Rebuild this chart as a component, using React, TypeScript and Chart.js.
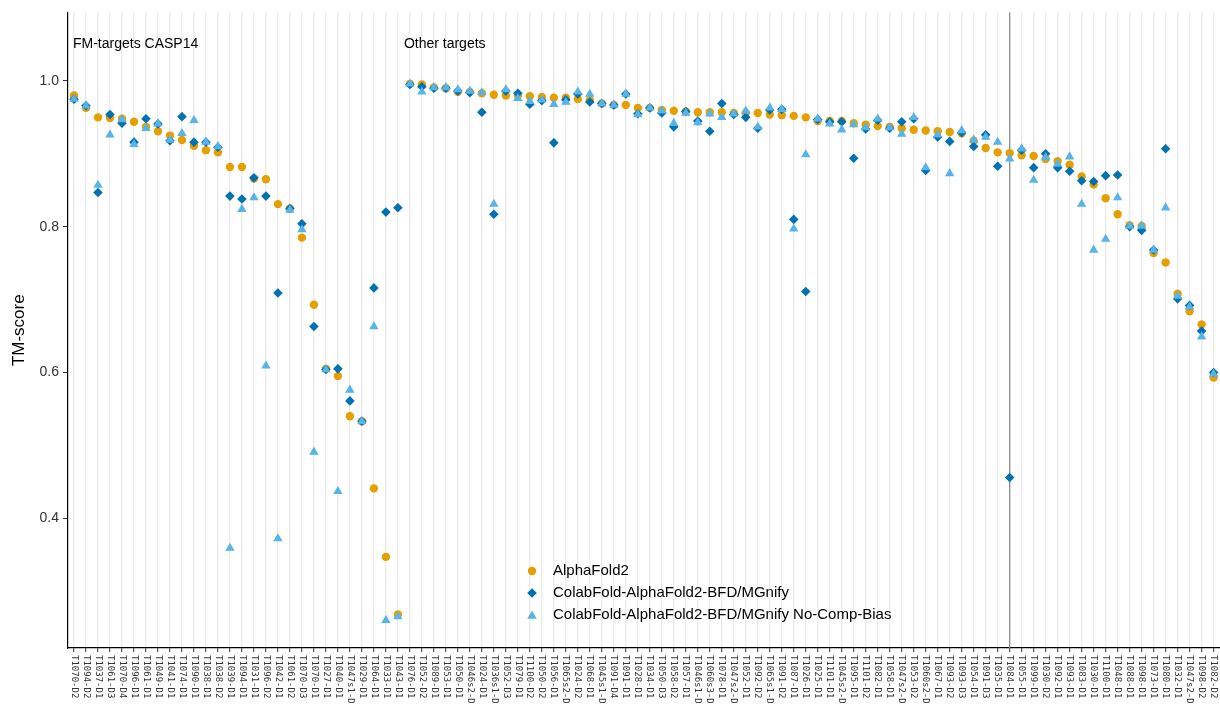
import React, { useEffect, useRef } from 'react';
import { Chart, registerables } from 'chart.js';

Chart.register(...registerables);

const targets: string[] = [
  'T1070-D2', 'T1094-D2', 'T1037-D1', 'T1061-D3', 'T1070-D4', 'T1096-D1', 'T1061-D1', 'T1049-D1',
  'T1041-D1', 'T1074-D1', 'T1090-D1', 'T1038-D1', 'T1038-D2', 'T1039-D1', 'T1094-D1', 'T1031-D1',
  'T1096-D2', 'T1042-D1', 'T1061-D2', 'T1070-D3', 'T1070-D1', 'T1027-D1', 'T1040-D1', 'T1047s1-D',
  'T1029-D1', 'T1064-D1', 'T1033-D1', 'T1043-D1',
  'T1076-D1', 'T1052-D2', 'T1089-D1', 'T1053-D1', 'T1050-D1', 'T1046s2-D', 'T1024-D1', 'T1036s1-D',
  'T1052-D3', 'T1079-D1', 'T1100-D2', 'T1050-D2', 'T1056-D1', 'T1065s2-D', 'T1024-D2', 'T1068-D1',
  'T1045s1-D', 'T1091-D4', 'T1091-D1', 'T1028-D1', 'T1034-D1', 'T1050-D3', 'T1058-D2', 'T1057-D1',
  'T1046s1-D', 'T1060s3-D', 'T1078-D1', 'T1047s2-D', 'T1052-D1', 'T1092-D2', 'T1065s1-D', 'T1091-D2',
  'T1087-D1', 'T1026-D1', 'T1025-D1', 'T1101-D1', 'T1045s2-D', 'T1095-D1', 'T1101-D2', 'T1082-D1',
  'T1058-D1', 'T1047s2-D', 'T1053-D2', 'T1060s2-D', 'T1067-D1', 'T1093-D2', 'T1093-D3', 'T1054-D1',
  'T1091-D3', 'T1035-D1', 'T1084-D1', 'T1055-D1', 'T1099-D1', 'T1030-D2', 'T1092-D1', 'T1093-D1',
  'T1083-D1', 'T1030-D1', 'T1100-D1', 'T1048-D1', 'T1088-D1', 'T1098-D1', 'T1073-D1', 'T1080-D1',
  'T1032-D1', 'T1047s2-D', 'T1098-D2', 'T1082-D2',
];

const alphaFold2: number[] = [
  0.980, 0.963, 0.950, 0.949, 0.948, 0.944, 0.937, 0.931, 0.925, 0.919, 0.911, 0.905, 0.902, 0.882,
  0.882, 0.866, 0.865, 0.831, 0.825, 0.785, 0.693, 0.605, 0.595, 0.540, 0.533, 0.441, 0.347, 0.268,
  0.996, 0.995, 0.991, 0.990, 0.985, 0.985, 0.983, 0.981, 0.980, 0.980, 0.979, 0.978, 0.977, 0.977,
  0.975, 0.974, 0.969, 0.967, 0.967, 0.963, 0.963, 0.960, 0.959, 0.958, 0.957, 0.957, 0.957, 0.956,
  0.956, 0.956, 0.954, 0.953, 0.952, 0.950, 0.945, 0.945, 0.945, 0.942, 0.940, 0.938, 0.937, 0.935,
  0.933, 0.932, 0.931, 0.930, 0.928, 0.918, 0.908, 0.902, 0.901, 0.898, 0.897, 0.893, 0.890, 0.885,
  0.869, 0.858, 0.839, 0.817, 0.802, 0.801, 0.764, 0.751, 0.708, 0.684, 0.666, 0.593,
];

const colabFold: number[] = [
  0.975, 0.966, 0.847, 0.954, 0.942, 0.916, 0.948, 0.941, 0.918, 0.951, 0.916, 0.916, 0.909, 0.842,
  0.838, 0.867, 0.842, 0.709, 0.825, 0.804, 0.663, 0.604, 0.605, 0.561, 0.533, 0.716, 0.820, 0.826,
  0.995, 0.992, 0.990, 0.990, 0.986, 0.984, 0.957, 0.817, 0.986, 0.983, 0.968, 0.973, 0.915, 0.974,
  0.982, 0.971, 0.969, 0.967, 0.982, 0.955, 0.963, 0.956, 0.937, 0.958, 0.945, 0.931, 0.969, 0.954,
  0.950, 0.935, 0.960, 0.961, 0.810, 0.711, 0.947, 0.944, 0.944, 0.894, 0.934, 0.946, 0.935, 0.944,
  0.948, 0.877, 0.923, 0.917, 0.929, 0.910, 0.926, 0.883, 0.456, 0.905, 0.881, 0.900, 0.881, 0.876,
  0.863, 0.862, 0.870, 0.871, 0.800, 0.795, 0.768, 0.907, 0.701, 0.692, 0.657, 0.600,
];

const colabFoldNoCompBias: number[] = [
  0.975, 0.966, 0.857, 0.926, 0.947, 0.913, 0.935, 0.941, 0.919, 0.928, 0.946, 0.916, 0.910, 0.359,
  0.824, 0.840, 0.609, 0.372, 0.823, 0.796, 0.491, 0.604, 0.437, 0.576, 0.533, 0.663, 0.260, 0.265,
  0.996, 0.985, 0.991, 0.991, 0.988, 0.986, 0.984, 0.831, 0.988, 0.976, 0.972, 0.974, 0.968, 0.971,
  0.985, 0.982, 0.969, 0.967, 0.982, 0.954, 0.963, 0.959, 0.942, 0.956, 0.943, 0.955, 0.950, 0.955,
  0.959, 0.937, 0.963, 0.961, 0.797, 0.899, 0.948, 0.941, 0.933, 0.940, 0.936, 0.948, 0.936, 0.927,
  0.950, 0.881, 0.926, 0.873, 0.932, 0.919, 0.923, 0.916, 0.893, 0.907, 0.864, 0.895, 0.886, 0.896,
  0.831, 0.768, 0.783, 0.840, 0.801, 0.801, 0.768, 0.826, 0.705, 0.690, 0.649, 0.598,
];

const yTickValues: number[] = [0.4, 0.6, 0.8, 1.0];
const yTickLabels: string[] = ['0.4', '0.6', '0.8', '1.0'];
const groupLabels: string[] = ['FM-targets CASP14', 'Other targets'];
const groupStartIndex: number[] = [0, 28];
const markerIndex = 78; // T1084-D1
const seriesNames: string[] = [
  'AlphaFold2',
  'ColabFold-AlphaFold2-BFD/MGnify',
  'ColabFold-AlphaFold2-BFD/MGnify No-Comp-Bias',
];
const seriesColors: string[] = ['#E69F00', '#0072B2', '#56B4E9'];
const seriesShapes: string[] = ['circle', 'rectRot', 'triangle'];
const seriesRadius: number[] = [4.2, 4.8, 5.4];

const FONT = "'Liberation Sans', Arial, Helvetica, sans-serif";

function drawShape(ctx: CanvasRenderingContext2D, shape: string, x: number, y: number, r: number) {
  ctx.beginPath();
  if (shape === 'circle') {
    ctx.arc(x, y, r, 0, Math.PI * 2);
  } else if (shape === 'rectRot') {
    ctx.moveTo(x, y - r);
    ctx.lineTo(x + r, y);
    ctx.lineTo(x, y + r);
    ctx.lineTo(x - r, y);
    ctx.closePath();
  } else {
    for (let k = 0; k < 3; k++) {
      const a = (k * 2 * Math.PI) / 3;
      const px = x + Math.sin(a) * r;
      const py = y - Math.cos(a) * r;
      if (k === 0) ctx.moveTo(px, py);
      else ctx.lineTo(px, py);
    }
    ctx.closePath();
  }
  ctx.fill();
}

const overlayPlugin = {
  id: 'overlay',
  beforeDatasetsDraw(chart: any) {
    const { ctx, chartArea, scales } = chart;
    const xs = scales.x;
    ctx.save();
    const mx = xs.getPixelForValue(markerIndex);
    ctx.strokeStyle = '#8f8f8f';
    ctx.lineWidth = 1.3;
    ctx.beginPath();
    ctx.moveTo(mx, chartArea.top);
    ctx.lineTo(mx, chartArea.bottom);
    ctx.stroke();

    ctx.fillStyle = '#000';
    ctx.font = `14px ${FONT}`;
    ctx.textAlign = 'left';
    ctx.textBaseline = 'middle';
    groupLabels.forEach((lab, k) => {
      const idx = groupStartIndex[k];
      const px = xs.getPixelForValue(idx) - (k === 0 ? 1 : 6);
      ctx.fillText(lab, px, chartArea.top + 32);
    });
    ctx.restore();
  },
  afterDraw(chart: any) {
    const { ctx, chartArea, scales } = chart;
    const xs = scales.x;
    ctx.save();
    // x tick labels rotated clockwise
    ctx.fillStyle = '#333';
    ctx.font = `9px 'DejaVu Sans Mono', monospace`;
    ctx.textAlign = 'left';
    ctx.textBaseline = 'middle';
    targets.forEach((t, i) => {
      const x = xs.getPixelForValue(i);
      ctx.save();
      ctx.translate(x, chartArea.bottom + 7);
      ctx.rotate(Math.PI / 2);
      ctx.fillText(t, 0, 0);
      ctx.restore();
    });

    // y axis title
    ctx.save();
    ctx.fillStyle = '#000';
    ctx.font = `17px ${FONT}`;
    ctx.textAlign = 'center';
    ctx.textBaseline = 'middle';
    ctx.translate(19, (chartArea.top + chartArea.bottom) / 2);
    ctx.rotate(-Math.PI / 2);
    ctx.fillText('TM-score', 0, 0);
    ctx.restore();

    // legend
    const lx = 532;
    const ly0 = 571;
    const dy = 22;
    ctx.font = `15px ${FONT}`;
    ctx.textAlign = 'left';
    ctx.textBaseline = 'middle';
    seriesNames.forEach((name, k) => {
      const y = ly0 + k * dy;
      ctx.fillStyle = seriesColors[k];
      drawShape(ctx, seriesShapes[k], lx, k === 2 ? y + 1 : y, seriesRadius[k]);
      ctx.fillStyle = '#000';
      ctx.fillText(name, lx + 21, y);
    });
    ctx.restore();
  },
};

export default function App() {
  const canvasRef = useRef<HTMLCanvasElement | null>(null);

  useEffect(() => {
    const canvas = canvasRef.current;
    if (!canvas) return;
    const datasets = [alphaFold2, colabFold, colabFoldNoCompBias].map((values, k) => ({
      label: seriesNames[k],
      data: values,
      showLine: false,
      pointStyle: seriesShapes[k],
      pointRadius: seriesRadius[k],
      pointHoverRadius: seriesRadius[k],
      pointBackgroundColor: seriesColors[k],
      pointBorderColor: seriesColors[k],
      pointBorderWidth: 0,
      backgroundColor: seriesColors[k],
      borderColor: seriesColors[k],
      order: 3 - k,
    }));

    const chart = new Chart(canvas, {
      type: 'line',
      data: { labels: targets, datasets: datasets as any },
      options: {
        responsive: false,
        animation: false,
        devicePixelRatio: 1,
        events: [],
        layout: { padding: { top: 12, left: 0, right: 0, bottom: 0 } },
        plugins: {
          legend: { display: false },
          tooltip: { enabled: false },
        },
        scales: {
          x: {
            type: 'category',
            offset: true,
            grid: {
              display: true,
              drawOnChartArea: true,
              offset: false,
              color: '#EBEBEB',
              lineWidth: 1.4,
              drawTicks: true,
              tickLength: 4,
              tickColor: '#333',
              tickWidth: 1,
            },
            border: { display: true, color: '#000', width: 1.2 },
            ticks: { display: false, autoSkip: false },
            afterFit: (scale: any) => {
              scale.height = 61;
            },
          },
          y: {
            type: 'linear',
            min: 0.222,
            max: 1.094,
            grid: {
              display: true,
              drawOnChartArea: false,
              drawTicks: true,
              tickLength: 5,
              tickColor: '#333',
            },
            border: { display: true, color: '#000', width: 1.2 },
            ticks: {
              color: '#333',
              font: { family: FONT, size: 14 },
              padding: 4,
              callback: (v: any) => {
                const idx = yTickValues.findIndex((t) => Math.abs(t - Number(v)) < 1e-6);
                return idx >= 0 ? yTickLabels[idx] : '';
              },
            },
            afterBuildTicks: (scale: any) => {
              scale.ticks = yTickValues.map((v) => ({ value: v }));
            },
            afterFit: (scale: any) => {
              scale.width = 68;
            },
          },
        },
      },
      plugins: [overlayPlugin],
    });

    return () => {
      chart.destroy();
    };
  }, []);

  return (
    <div
      style={{
        position: 'fixed',
        left: 0,
        top: 0,
        width: 1220,
        height: 709,
        overflow: 'hidden',
        background: '#fff',
      }}
    >
      <canvas ref={canvasRef} width={1225} height={709} style={{ display: 'block' }} />
    </div>
  );
}
